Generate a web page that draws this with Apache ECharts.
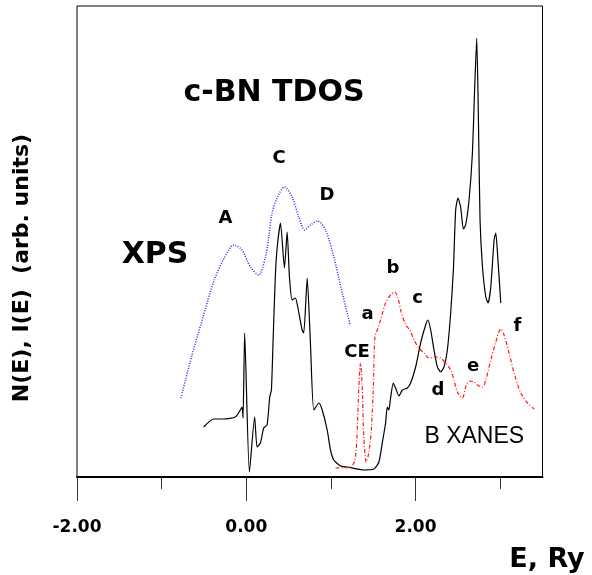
<!DOCTYPE html>
<html>
<head>
<meta charset="utf-8">
<script src="https://cdn.jsdelivr.net/npm/echarts@6/dist/echarts.min.js"></script>
<style>html,body{margin:0;padding:0;background:#fff}#c{width:592px;height:575px}</style>
</head>
<body>
<div id="c"></div>
<script>
// ---- data (E in Ry, intensities in arbitrary units) ----
const majorTicks = [-2, 0, 2];
const minorTicks = [-1, 1, 3];

const xpsE = [-0.772,-0.641,-0.504,-0.386,-0.267,-0.149,-0.050,0.049,0.147,0.226,0.265,0.305,0.364,0.451,0.542,0.620,0.691,0.759,0.845,0.936,1.034,1.134,1.224];
const xpsI = [79,122,162,195,218,232,227,210,202,220,240,264,279,290,280,260,247,252,256,247,220,184,153];

const tdosE = [-0.504,-0.386,-0.267,-0.129,-0.070,-0.050,-0.038,-0.019,0.037,0.099,0.128,0.167,0.206,0.246,0.277,0.297,0.317,0.344,0.368,0.404,0.451,0.483,0.510,0.542,0.581,0.608,0.660,0.679,0.720,0.759,0.798,0.857,0.897,0.956,0.995,1.034,1.114,1.193,1.389,1.508,1.567,1.607,1.646,1.666,1.685,1.705,1.737,1.764,1.804,1.844,1.903,1.942,2.001,2.060,2.119,2.147,2.179,2.218,2.258,2.297,2.336,2.376,2.415,2.447,2.474,2.501,2.533,2.565,2.592,2.632,2.672,2.699,2.723,2.743,2.762,2.791,2.830,2.857,2.889,2.928,2.948,2.968,3.007];
const tdosN = [50,58,58,60,67,70,59,144,5,60,30,34,49,52,80,87,137,202,232,254,209,245,200,177,179,170,147,144,199,132,67,74,67,47,27,17,11,10,7,8,15,34,54,70,67,79,94,89,81,87,89,94,110,134,152,157,147,127,110,105,110,127,164,207,267,279,270,248,252,277,324,390,439,357,257,210,180,174,190,237,244,224,174];

const xanesE = [1.054,1.232,1.271,1.291,1.311,1.330,1.350,1.370,1.389,1.418,1.449,1.477,1.501,1.520,1.548,1.587,1.646,1.705,1.753,1.792,1.824,1.883,1.934,1.981,2.040,2.099,2.159,2.238,2.297,2.356,2.415,2.454,2.494,2.554,2.593,2.632,2.691,2.731,2.791,2.830,2.889,2.948,3.007,3.046,3.105,3.164,3.244,3.323,3.401];
const xanesI = [9,10,14,20,47,90,114,90,40,15,25,47,90,140,147,157,174,182,185,179,167,152,147,137,129,124,119,120,119,114,107,97,85,79,90,96,95,92,90,97,117,135,148,142,124,104,84,74,68];

const zip = (a, b) => a.map((v, i) => [v, b[i]]);

const chart = echarts.init(document.getElementById('c'));
const bold = {fontFamily: 'DejaVu Sans', fontWeight: 'bold', fill: '#000'};
function lbl(text, x, y, size, extra) {
  return {type: 'text', x: x, y: y, style: Object.assign({text: text, fontSize: size, align: 'center', verticalAlign: 'middle'}, bold, extra || {})};
}

chart.setOption({
  animation: false,
  backgroundColor: '#fff',
  grid: {left: 77, right: 49.5, top: 6, bottom: 98, show: true, borderColor: '#000', borderWidth: 1, backgroundColor: 'transparent'},
  xAxis: [{
    type: 'value', min: -2, max: 3.5, position: 'bottom',
    splitLine: {show: false},
    axisLine: {show: true, lineStyle: {color: '#000', width: 2}},
    axisTick: {show: true, customValues: majorTicks, length: 24, lineStyle: {color: '#333', width: 1}},
    axisLabel: {customValues: majorTicks, formatter: v => v.toFixed(2), margin: 42, fontFamily: 'DejaVu Sans', fontWeight: 'bold', fontSize: 17, color: '#000'}
  }, {
    type: 'value', min: -2, max: 3.5, position: 'bottom',
    splitLine: {show: false},
    axisLine: {show: false},
    axisTick: {show: true, customValues: minorTicks, length: 12, lineStyle: {color: '#333', width: 1}},
    axisLabel: {show: false}
  }],
  yAxis: {type: 'value', min: 0, max: 471, show: false},
  series: [
    {type: 'line', data: zip(xpsE, xpsI), smooth: 0.3, symbol: 'none', lineStyle: {color: '#2a2aff', width: 1.5, type: [1, 1.5]}},
    {type: 'line', data: zip(tdosE, tdosN), smooth: 0.2, symbol: 'none', lineStyle: {color: '#000', width: 1.2}},
    {type: 'line', data: zip(xanesE, xanesI), smooth: 0.3, symbol: 'none', lineStyle: {color: '#ff1a1a', width: 1.2, type: [4, 2, 1, 2]}}
  ],
  graphic: [
    lbl('c-BN TDOS', 274, 93, 30),
    lbl('XPS', 155, 255, 30),
    lbl('A', 225.5, 218, 18),
    lbl('C', 279, 158, 18),
    lbl('D', 327, 195.5, 18),
    lbl('a', 367.5, 314, 18),
    lbl('b', 393, 268, 18),
    lbl('c', 417.5, 298.5, 18),
    lbl('CE', 357, 352, 18),
    lbl('d', 438, 390.5, 18),
    lbl('e', 473, 366, 18),
    lbl('f', 517.5, 326.5, 18),
    {type: 'text', x: 474.3, y: 436.5, style: {text: 'B XANES', fontSize: 23, fontFamily: 'Liberation Sans', fill: '#000', align: 'center', verticalAlign: 'middle'}},
    lbl('E, Ry', 547, 560, 27),
    {type: 'text', x: 22, y: 268, rotation: Math.PI / 2, style: Object.assign({text: 'N(E), I(E)  (arb. units)', fontSize: 22, align: 'center', verticalAlign: 'middle'}, bold)}
  ]
});
</script>
</body>
</html>
